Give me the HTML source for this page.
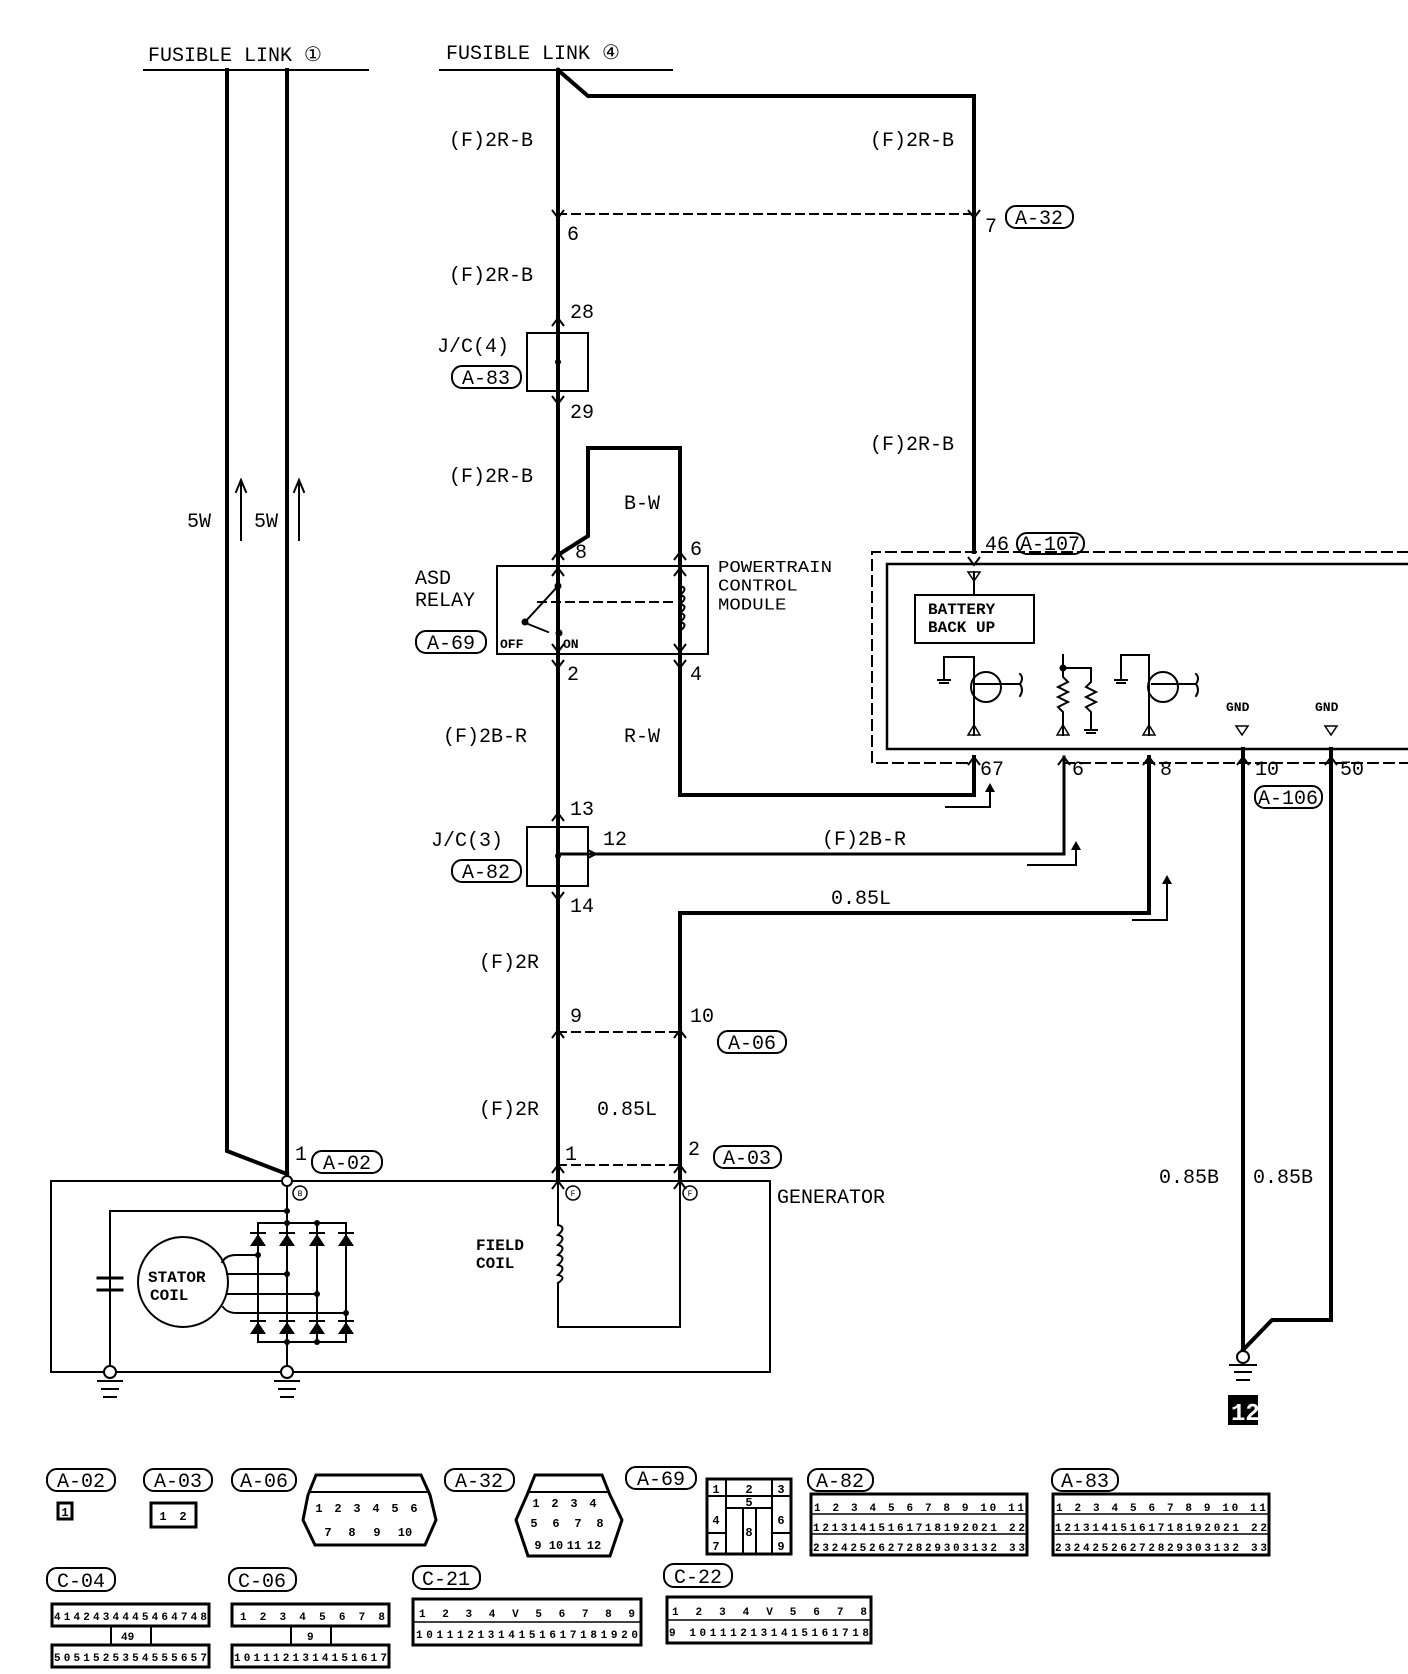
<!DOCTYPE html>
<html><head><meta charset="utf-8"><style>
html,body{margin:0;padding:0;background:#fff;}
svg{display:block;}
text{font-family:"Liberation Mono",monospace;fill:#000;}
</style></head><body>
<svg width="1408" height="1674" viewBox="0 0 1408 1674" xmlns="http://www.w3.org/2000/svg">
<defs>
<g id="up"><polyline points="-6,8 0,0 6,8" fill="none" stroke="#000" stroke-width="2"/></g>
<g id="dn"><polyline points="-6,-8 0,0 6,-8" fill="none" stroke="#000" stroke-width="2"/></g>
</defs>
<g fill="none" stroke="#000" stroke-linecap="square">
<line x1="144" y1="70" x2="368" y2="70" stroke-width="2"/>
<line x1="440" y1="70" x2="672" y2="70" stroke-width="2"/>
<polyline points="227,70 227,1151 287,1174" stroke-width="4"/>
<line x1="287" y1="70" x2="287" y2="1180" stroke-width="4"/>
<line x1="558" y1="70" x2="558" y2="1180" stroke-width="4"/>
<polyline points="558,70 588,96 974,96 974,552" stroke-width="4"/>
<line x1="558" y1="214" x2="974" y2="214" stroke-width="2" stroke-dasharray="8,6"/>
<polyline points="558,555 588,536 588,448 680,448 680,795 974,795 974,757" stroke-width="4"/>
<polyline points="558,854 1064,854 1064,757" stroke-width="3"/>
<polyline points="680,1180 680,913 1149,913 1149,757" stroke-width="4"/>
<line x1="558" y1="1032" x2="680" y2="1032" stroke-width="2" stroke-dasharray="8,6"/>
<line x1="558" y1="1165" x2="680" y2="1165" stroke-width="2" stroke-dasharray="8,6"/>
<polyline points="946,807 990,807 990,788" stroke-width="2"/>
<polyline points="1028,865 1076,865 1076,846" stroke-width="2"/>
<polyline points="1133,920 1167,920 1167,880" stroke-width="2"/>
<rect x="527" y="333" width="61" height="58" stroke-width="2"/>
<rect x="527" y="827" width="61" height="59" stroke-width="2"/>
<rect x="497" y="566" width="211" height="88" stroke-width="2"/>
<line x1="558" y1="586" x2="525" y2="622" stroke-width="2"/>
<line x1="538" y1="602" x2="672" y2="602" stroke-width="2" stroke-dasharray="8,6"/>
<line x1="528" y1="624" x2="548" y2="632" stroke-width="2"/>
<path d="M1408,552 H872 V763 H974 M1064,763 H1408" stroke-width="2" stroke-dasharray="10,6"/>
<path d="M1408,564 H887 V749 H1408" stroke-width="2.5"/>
<line x1="974" y1="572" x2="974" y2="595" stroke-width="2"/>
<rect x="915" y="595" width="119" height="48" stroke-width="2"/>
<polyline points="944,680 944,657 974,657 974,735" stroke-width="2"/>
<circle cx="986" cy="687" r="15" stroke-width="2"/>
<path d="M975,684 L1000,684 L1020,684 q4,-6 0,-10 M1020,684 q4,6 0,12" stroke-width="2"/>
<polyline points="1063,735 1063,712 1058,707 1068,702 1058,697 1068,692 1058,687 1068,682 1063,677 1063,668 1091,668 1091,682 1086,687 1096,692 1086,697 1096,702 1086,707 1091,712 1091,730" stroke-width="2"/>
<line x1="1063" y1="668" x2="1063" y2="655" stroke-width="2"/>
<polyline points="1121,680 1121,655 1149,655 1149,735" stroke-width="2"/>
<circle cx="1163" cy="687" r="15" stroke-width="2"/>
<path d="M1152,684 L1196,684 q4,-6 0,-10 M1196,684 q4,6 0,12" stroke-width="2"/>
<polyline points="1243,749 1243,1352" stroke-width="4"/>
<polyline points="1331,749 1331,1320 1272,1320 1243,1350" stroke-width="4"/>
<circle cx="1243" cy="1357" r="6" stroke-width="2" fill="#fff"/>
<line x1="1230" y1="1365" x2="1256" y2="1365" stroke-width="2"/>
<line x1="1235" y1="1372" x2="1251" y2="1372" stroke-width="2"/>
<line x1="1237" y1="1380" x2="1249" y2="1380" stroke-width="2"/>
<rect x="51" y="1181" width="719" height="191" stroke-width="2"/>
<polyline points="110,1372 110,1211 287,1211" stroke-width="2"/>
<line x1="287" y1="1180" x2="287" y2="1372" stroke-width="2"/>
<line x1="98" y1="1278" x2="122" y2="1278" stroke-width="3"/>
<line x1="98" y1="1290" x2="122" y2="1290" stroke-width="3"/>
<line x1="258" y1="1223" x2="346" y2="1223" stroke-width="2"/>
<line x1="258" y1="1342" x2="346" y2="1342" stroke-width="2"/>
<line x1="258" y1="1223" x2="258" y2="1342" stroke-width="2"/>
<line x1="317" y1="1223" x2="317" y2="1342" stroke-width="2"/>
<line x1="346" y1="1223" x2="346" y2="1342" stroke-width="2"/>
<circle cx="183" cy="1282" r="45" stroke-width="2"/>
<path d="M222,1262 q4,-7 14,-7 H258 M227,1274 H287 M228,1294 H317 M223,1307 q4,6 14,6 H346" stroke-width="2"/>
<path d="M558,1180 V1225 M558,1283 V1327 H680 V1180" stroke-width="2"/>
<path d="M558,1225 q9,2 0,10 q9,2 0,10 q9,2 0,10 q9,2 0,10 q9,2 0,10 q9,2 0,8" stroke-width="2"/>
<path d="M680,586 q9,2 0,9 q9,2 0,9 q9,2 0,9 q9,2 0,9 q9,2 0,9" stroke-width="2"/>
<circle cx="110" cy="1372" r="6" stroke-width="2" fill="#fff"/>
<circle cx="287" cy="1372" r="6" stroke-width="2" fill="#fff"/>
<path d="M98,1381 H122 M102,1389 H118 M104,1397 H116 M275,1381 H299 M279,1389 H295 M281,1397 H293" stroke-width="2"/>
<circle cx="287" cy="1181" r="5" stroke-width="2" fill="#fff"/>
<circle cx="300" cy="1193" r="7" stroke-width="1.5"/>
<circle cx="573" cy="1193" r="7" stroke-width="1.5"/>
<circle cx="690" cy="1193" r="7" stroke-width="1.5"/>
<path d="M241,540 V482 M236,492 L241,480 L246,492 M299,540 V482 M294,492 L299,480 L304,492" stroke-width="2"/>
<path d="M968,572 h12 l-6,9 z M968,735 h12 l-6,-10 z M1057,735 h12 l-6,-10 z M1143,735 h12 l-6,-10 z M1236,726 h12 l-6,9 z M1325,726 h12 l-6,9 z" stroke-width="1.5"/>
<path d="M938,680 h12 M940,683 h8 M1085,730 h12 M1087,733 h8 M1115,680 h12 M1117,683 h8" stroke-width="2"/>
<rect x="312" y="1151" width="70" height="22" rx="10" stroke-width="2"/>
<rect x="714" y="1146" width="67" height="22" rx="10" stroke-width="2"/>
<rect x="718" y="1031" width="68" height="22" rx="10" stroke-width="2"/>
<rect x="452" y="366" width="69" height="22" rx="10" stroke-width="2"/>
<rect x="452" y="860" width="69" height="22" rx="10" stroke-width="2"/>
<rect x="416" y="631" width="70" height="22" rx="10" stroke-width="2"/>
<rect x="1006" y="206" width="67" height="22" rx="10" stroke-width="2"/>
<rect x="1017" y="533" width="67" height="21" rx="10" stroke-width="2"/>
<rect x="1255" y="786" width="67" height="22" rx="10" stroke-width="2"/>
</g>
<g fill="#000">
<path d="M985,792 h10 l-5,-9 z M1071,850 h10 l-5,-9 z M1162,884 h10 l-5,-9 z"/>
<circle cx="558" cy="362" r="3"/><circle cx="558" cy="856" r="3"/>
<circle cx="558" cy="586" r="3.5"/><circle cx="525" cy="622" r="3.5"/><circle cx="559" cy="633" r="3.5"/>
<circle cx="1063" cy="668" r="3.5"/>
<circle cx="287" cy="1211" r="3"/><circle cx="287" cy="1223" r="3"/><circle cx="317" cy="1223" r="3"/>
<circle cx="258" cy="1255" r="3"/><circle cx="287" cy="1274" r="3"/><circle cx="317" cy="1294" r="3"/><circle cx="346" cy="1313" r="3"/>
<circle cx="287" cy="1342" r="3"/><circle cx="317" cy="1342" r="3"/>
<path d="M250,1246 h16 l-8,-12 z M279,1246 h16 l-8,-12 z M309,1246 h16 l-8,-12 z M338,1246 h16 l-8,-12 z"/>
<path d="M250,1334 h16 l-8,-12 z M279,1334 h16 l-8,-12 z M309,1334 h16 l-8,-12 z M338,1334 h16 l-8,-12 z"/>
<path d="M250,1232 h16 v2 h-16z M279,1232 h16 v2 h-16z M309,1232 h16 v2 h-16z M338,1232 h16 v2 h-16z M250,1320 h16 v2 h-16z M279,1320 h16 v2 h-16z M309,1320 h16 v2 h-16z M338,1320 h16 v2 h-16z"/>
<rect x="1228" y="1395" width="30" height="30"/>
</g>
<use href="#dn" x="558" y="218"/><use href="#dn" x="974" y="218"/>
<use href="#up" x="558" y="318"/><use href="#dn" x="558" y="404"/>
<use href="#up" x="558" y="552"/><use href="#up" x="680" y="552"/>
<use href="#up" x="558" y="568"/><use href="#up" x="680" y="568"/>
<use href="#dn" x="558" y="652"/><use href="#dn" x="680" y="652"/>
<use href="#dn" x="558" y="668"/><use href="#dn" x="680" y="668"/>
<use href="#up" x="558" y="813"/><use href="#dn" x="558" y="900"/>
<use href="#up" x="558" y="1030"/><use href="#up" x="680" y="1030"/>
<use href="#up" x="558" y="1165"/><use href="#up" x="680" y="1165"/>
<use href="#up" x="558" y="1181"/><use href="#up" x="680" y="1181"/>
<use href="#dn" x="974" y="565"/>
<use href="#up" x="974" y="757"/><use href="#up" x="1064" y="757"/><use href="#up" x="1149" y="757"/><use href="#up" x="1243" y="757"/><use href="#up" x="1331" y="757"/>
<polyline points="588,850 596,854 588,858" fill="none" stroke="#000" stroke-width="2"/>
<g font-size="20">
<text x="148" y="61">FUSIBLE LINK ①</text>
<text x="446" y="59">FUSIBLE LINK ④</text>
<text x="449" y="146">(F)2R-B</text><text x="870" y="146">(F)2R-B</text>
<text x="449" y="281">(F)2R-B</text><text x="870" y="450">(F)2R-B</text>
<text x="449" y="482">(F)2R-B</text>
<text x="624" y="509">B-W</text>
<text x="443" y="742">(F)2B-R</text><text x="624" y="742">R-W</text>
<text x="822" y="845">(F)2B-R</text>
<text x="831" y="904">0.85L</text>
<text x="479" y="968">(F)2R</text>
<text x="479" y="1115">(F)2R</text><text x="597" y="1115">0.85L</text>
<text x="1159" y="1183">0.85B</text><text x="1253" y="1183">0.85B</text>
<text x="187" y="527">5W</text><text x="254" y="527">5W</text>
<text x="437" y="352">J/C(4)</text><text x="431" y="846">J/C(3)</text>
<text x="567" y="240">6</text><text x="985" y="232">7</text>
<text x="570" y="318">28</text><text x="570" y="418">29</text>
<text x="575" y="558">8</text><text x="690" y="555">6</text>
<text x="567" y="680">2</text><text x="690" y="680">4</text>
<text x="570" y="815">13</text><text x="603" y="845">12</text><text x="570" y="912">14</text>
<text x="570" y="1022">9</text><text x="690" y="1022">10</text>
<text x="565" y="1160">1</text><text x="688" y="1155">2</text>
<text x="295" y="1160">1</text>
<text x="985" y="550">46</text>
<text x="980" y="775">67</text><text x="1072" y="775">6</text><text x="1160" y="775">8</text>
<text x="1255" y="775">10</text><text x="1340" y="775">50</text>
<text x="777" y="1203">GENERATOR</text>
<text x="415" y="584">ASD</text><text x="415" y="606">RELAY</text>
</g>
<g font-size="20" text-anchor="middle">
<text x="486" y="384">A-83</text><text x="486" y="878">A-82</text>
<text x="451" y="649">A-69</text><text x="347" y="1169">A-02</text>
<text x="747" y="1164">A-03</text><text x="752" y="1049">A-06</text>
<text x="1039" y="224">A-32</text><text x="1050" y="550">A-107</text>
<text x="1288" y="804">A-106</text>
</g>
<g font-size="19" transform="scale(1,0.85)">
<text x="718" y="673">POWERTRAIN</text>
<text x="718" y="695">CONTROL</text>
<text x="718" y="717">MODULE</text>
</g>
<g font-size="16" font-weight="bold">
<text x="928" y="614">BATTERY</text><text x="928" y="632">BACK UP</text>
<text x="500" y="648" font-size="13">OFF</text><text x="563" y="648" font-size="13">ON</text>
<text x="476" y="1250">FIELD</text><text x="476" y="1268">COIL</text>
<text x="148" y="1282">STATOR</text><text x="150" y="1300">COIL</text>
<text x="1226" y="711" font-size="13">GND</text><text x="1315" y="711" font-size="13">GND</text>
</g>
<text x="1231" y="1420" font-size="24" font-weight="bold" style="fill:#fff">12</text>
<g font-size="8" font-family="Liberation Sans" text-anchor="middle">
<text x="300" y="1196">B</text><text x="573" y="1196">F</text><text x="690" y="1196">F</text>
</g>

<g fill="none" stroke="#000" stroke-width="2">
<rect x="47" y="1469" width="68" height="22" rx="10"/>
<rect x="144" y="1469" width="68" height="22" rx="10"/>
<rect x="232" y="1469" width="64" height="22" rx="10"/>
<rect x="445" y="1469" width="69" height="22" rx="10"/>
<rect x="626" y="1467" width="70" height="22" rx="10"/>
<rect x="808" y="1469" width="65" height="22" rx="10"/>
<rect x="1052" y="1469" width="66" height="22" rx="10"/>
<rect x="47" y="1568" width="68" height="23" rx="10"/>
<rect x="229" y="1568" width="67" height="23" rx="10"/>
<rect x="413" y="1566" width="67" height="23" rx="10"/>
<rect x="664" y="1564" width="68" height="23" rx="10"/>
<rect x="58" y="1503" width="14" height="16" stroke-width="3"/>
<rect x="151" y="1503" width="45" height="24" stroke-width="3"/>
<path d="M316,1475 H421 L430,1495 L436,1520 L425,1545 H315 L303,1520 L308,1495 Z" stroke-width="3"/>
<line x1="310" y1="1492" x2="429" y2="1492"/>
<path d="M535,1475 H602 L610,1495 L622,1520 L610,1556 H528 L516,1520 L527,1495 Z" stroke-width="3"/>
<line x1="527" y1="1492" x2="610" y2="1492"/>
<rect x="707" y="1479" width="84" height="75" stroke-width="3"/>
<path d="M707,1496 H791 M726,1479 V1554 M772,1479 V1554 M726,1508 H772 M743,1508 V1554 M756,1508 V1554 M707,1533 H726 M772,1533 H791"/>
<rect x="811" y="1494" width="216" height="61" stroke-width="3"/>
<rect x="1053" y="1494" width="216" height="61" stroke-width="3"/>
<rect x="52" y="1604" width="157" height="22" stroke-width="3"/>
<rect x="52" y="1645" width="157" height="22" stroke-width="3"/>
<rect x="232" y="1604" width="157" height="22" stroke-width="3"/>
<rect x="232" y="1645" width="157" height="22" stroke-width="3"/>
<path d="M111,1626 V1645 M151,1626 V1645 M291,1626 V1645 M331,1626 V1645"/>
<rect x="413" y="1599" width="228" height="46" stroke-width="3"/>
<rect x="667" y="1597" width="204" height="46" stroke-width="3"/>
</g>
<g font-size="20" text-anchor="middle">
<text x="81" y="1487">A-02</text><text x="178" y="1487">A-03</text><text x="264" y="1487">A-06</text>
<text x="479" y="1487">A-32</text><text x="661" y="1485">A-69</text><text x="840" y="1487">A-82</text><text x="1085" y="1487">A-83</text>
<text x="81" y="1587">C-04</text><text x="262" y="1587">C-06</text><text x="446" y="1585">C-21</text><text x="698" y="1583">C-22</text>
</g>
<g font-size="12" font-weight="bold" font-family="Liberation Sans" text-anchor="middle">
<text x="65" y="1516">1</text><text x="163" y="1520">1</text><text x="183" y="1520">2</text>
<text x="319" y="1512">1</text><text x="338" y="1512">2</text><text x="357" y="1512">3</text><text x="376" y="1512">4</text><text x="395" y="1512">5</text><text x="414" y="1512">6</text>
<text x="328" y="1536">7</text><text x="352" y="1536">8</text><text x="377" y="1536">9</text><text x="405" y="1536">10</text>
<text x="536" y="1507">1</text><text x="555" y="1507">2</text><text x="574" y="1507">3</text><text x="593" y="1507">4</text>
<text x="534" y="1527">5</text><text x="556" y="1527">6</text><text x="578" y="1527">7</text><text x="600" y="1527">8</text>
<text x="538" y="1549">9</text><text x="556" y="1549">10</text><text x="574" y="1549">11</text><text x="594" y="1549">12</text>
<text x="716" y="1493">1</text><text x="749" y="1493">2</text><text x="781" y="1493">3</text><text x="749" y="1506">5</text>
<text x="716" y="1524">4</text><text x="781" y="1524">6</text><text x="716" y="1550">7</text><text x="749" y="1536">8</text><text x="781" y="1550">9</text>
</g>
<g font-size="11" font-weight="bold" font-family="Liberation Sans">
<text x="814" y="1511" textLength="210">1 2 3 4 5 6 7 8 9 10 11</text>
<text x="813" y="1531" textLength="212">12131415161718192021 22</text>
<text x="813" y="1551" textLength="212">23242526272829303132 33</text>
<text x="1056" y="1511" textLength="210">1 2 3 4 5 6 7 8 9 10 11</text>
<text x="1055" y="1531" textLength="212">12131415161718192021 22</text>
<text x="1055" y="1551" textLength="212">23242526272829303132 33</text>
<text x="54" y="1620" textLength="153">4142434445464748</text>
<text x="121" y="1640">49</text>
<text x="54" y="1661" textLength="153">5051525354555657</text>
<text x="240" y="1620" textLength="145">1 2 3 4 5 6 7 8</text>
<text x="307" y="1640">9</text>
<text x="234" y="1661" textLength="153">1011121314151617</text>
<text x="419" y="1617" textLength="216">1 2 3 4  V  5 6 7 8 9</text>
<text x="416" y="1638" textLength="222">1011121314151617181920</text>
<text x="672" y="1615" textLength="195">1 2 3 4  V  5 6 7 8</text>
<text x="669" y="1636" textLength="200">9 101112131415161718</text>
</g>
<g stroke="#000" stroke-width="1.5">
<path d="M811,1514 H1027 M811,1534 H1027 M1053,1514 H1269 M1053,1534 H1269 M413,1622 H641 M667,1620 H871"/>
</g>
</svg>
</body></html>
